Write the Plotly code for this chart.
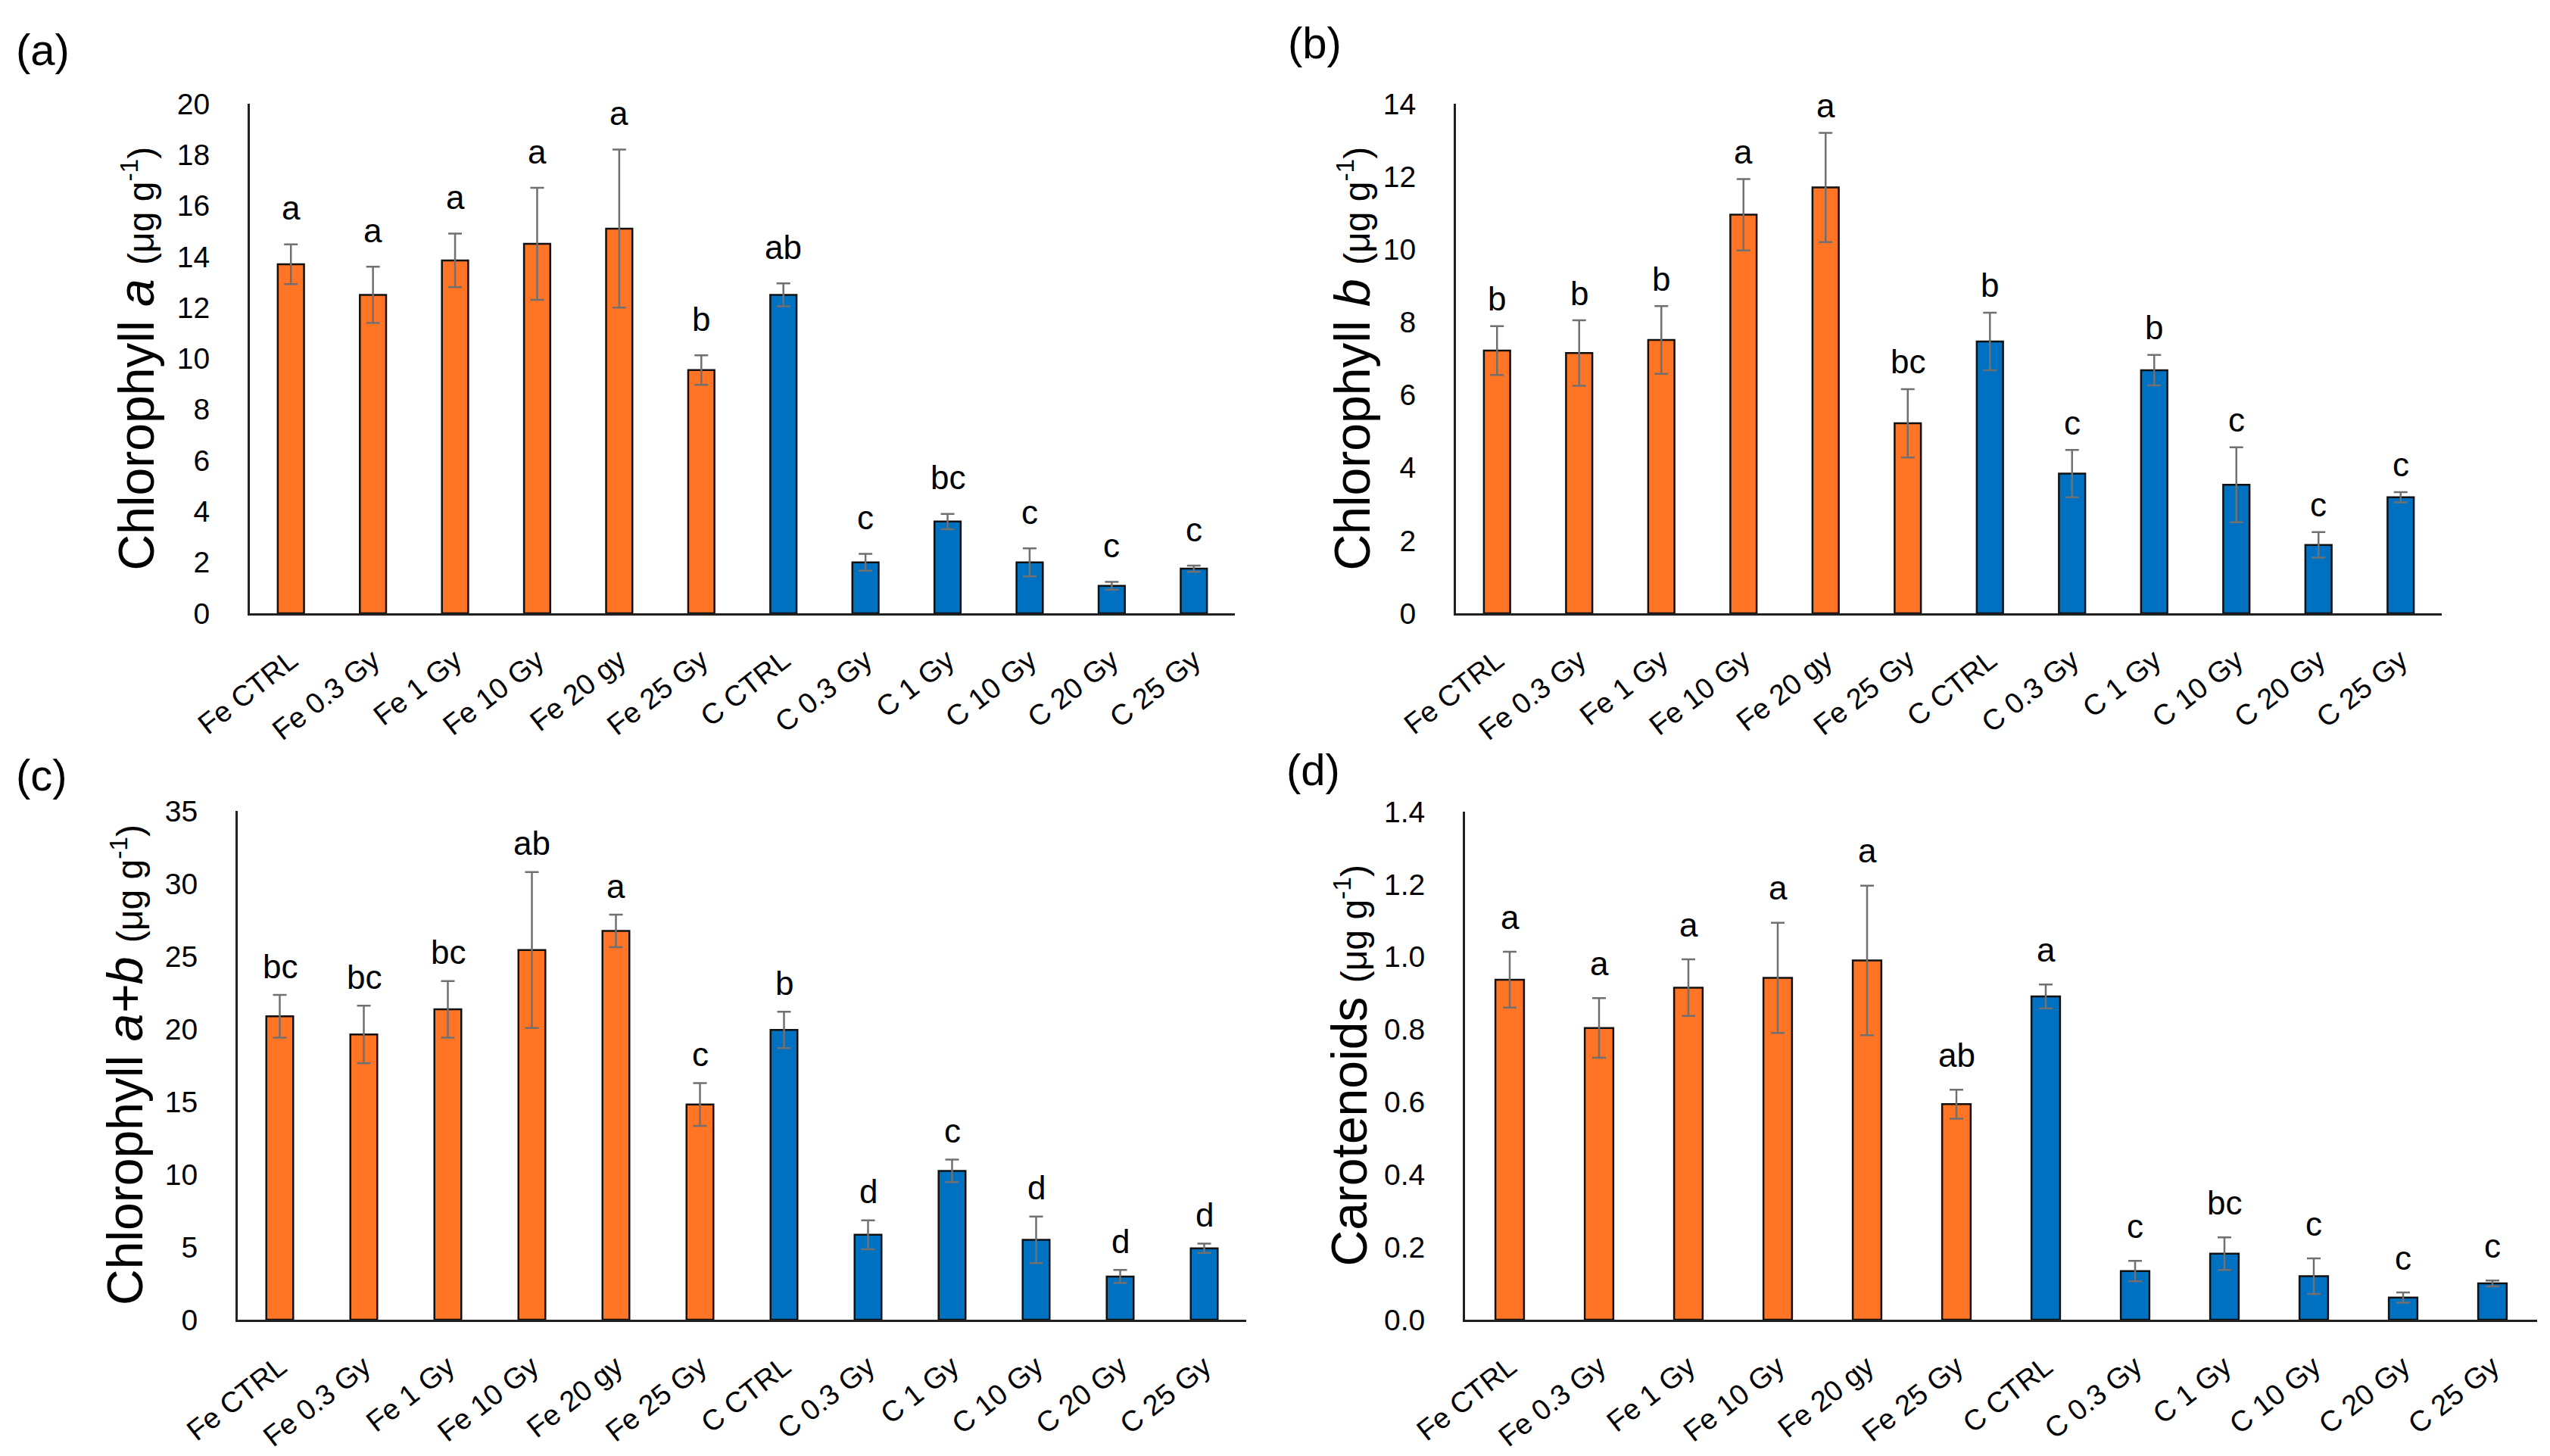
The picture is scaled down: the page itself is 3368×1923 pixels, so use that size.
import plotly.graph_objects as go

# ---------------- data ----------------
categories = ["Fe CTRL", "Fe 0.3 Gy", "Fe 1 Gy", "Fe 10 Gy", "Fe 20 gy", "Fe 25 Gy",
              "C CTRL", "C 0.3 Gy", "C 1 Gy", "C 10 Gy", "C 20 Gy", "C 25 Gy"]

chl_a = [13.7, 12.5, 13.85, 14.5, 15.1, 9.55, 12.5, 2.0, 3.6, 2.0, 1.08, 1.75]
chl_a_err = [0.78, 1.1, 1.05, 2.2, 3.1, 0.58, 0.45, 0.33, 0.3, 0.55, 0.15, 0.12]
chl_a_letters = ["a", "a", "a", "a", "a", "b", "ab", "c", "bc", "c", "c", "c"]

chl_b = [7.22, 7.15, 7.51, 10.95, 11.7, 5.22, 7.47, 3.84, 6.68, 3.53, 1.88, 3.19]
chl_b_err = [0.67, 0.9, 0.93, 0.98, 1.5, 0.94, 0.79, 0.65, 0.42, 1.03, 0.35, 0.14]
chl_b_letters = ["b", "b", "b", "a", "a", "bc", "b", "c", "b", "c", "c", "c"]

chl_ab = [20.87, 19.62, 21.35, 25.43, 26.74, 14.8, 19.94, 5.84, 10.24, 5.49, 2.97, 4.91]
chl_ab_err = [1.47, 1.98, 1.95, 5.36, 1.12, 1.47, 1.25, 0.99, 0.77, 1.6, 0.45, 0.32]
chl_ab_letters = ["bc", "bc", "bc", "ab", "a", "c", "b", "d", "c", "d", "d", "d"]

carot = [0.937, 0.804, 0.915, 0.942, 0.99, 0.594, 0.891, 0.134, 0.182, 0.12, 0.061, 0.1]
carot_err = [0.077, 0.082, 0.078, 0.152, 0.206, 0.04, 0.033, 0.028, 0.045, 0.049, 0.014, 0.008]
carot_letters = ["a", "a", "a", "a", "a", "ab", "a", "c", "bc", "c", "c", "c"]

y_ranges = [[0, 20], [0, 14], [0, 35], [0, 1.4]]
y_dticks = [2, 2, 5, 0.2]
panel_tags = ["(a)", "(b)", "(c)", "(d)"]

# ---------------- style ----------------
W, H = 3368, 1923
FONT = "Liberation Sans, Arial, sans-serif"
ORANGE = "#FF7425"
BLUE = "#0070C0"
ERR_COLOR = "#707070"
AXIS_COLOR = "#202020"

colors = [ORANGE if c.startswith("Fe") else BLUE for c in categories]

unit = "<span style='font-size:48px'>(μg g<sup>-1</sup>)</span>"
titles = [
    "Chlorophyll <i>a</i> " + unit,
    "Chlorophyll <i>b</i> " + unit,
    "Chlorophyll <i>a+b</i> " + unit,
    "Carotenoids " + unit,
]

panels = [
    (chl_a, chl_a_err, chl_a_letters),
    (chl_b, chl_b_err, chl_b_letters),
    (chl_ab, chl_ab_err, chl_ab_letters),
    (carot, carot_err, carot_letters),
]

# plot-area boxes in pixels: (left, right, top, bottom)
boxes = [
    (322, 1623, 129, 802),
    (1915, 3217, 129, 802),
    (306, 1638, 1063, 1735),
    (1927, 3343, 1064, 1735),
]
title_x = [172, 1778, 157, 1773]
letter_shift = [48, 36, 38, 46]
tag_pos = [(11, 58), (1691, 48), (11, 1015), (1689, 1008)]

fig = go.Figure()
annotations = []
layout_axes = {}

for i, ((vals, errs, letters), box) in enumerate(zip(panels, boxes)):
    n = "" if i == 0 else str(i + 1)
    xa, ya = "x" + n, "y" + n
    fig.add_trace(go.Bar(
        x=categories, y=vals,
        xaxis=xa, yaxis=ya,
        width=0.32,
        marker=dict(color=colors, line=dict(color="#111111", width=2.5)),
        error_y=dict(type="data", array=errs, visible=True,
                     color=ERR_COLOR, thickness=2.5, width=9),
        showlegend=False,
    ))
    for c, v, e, t in zip(categories, vals, errs, letters):
        annotations.append(dict(
            x=c, y=v + e, xref=xa, yref=ya, text=t, showarrow=False,
            yanchor="middle", yshift=letter_shift[i],
            font=dict(family=FONT, size=44, color="#000000"),
        ))
    l, r, t_, b = box
    layout_axes["xaxis" + n] = dict(
        domain=[l / W, r / W], anchor=ya, automargin=False,
        showline=True, linecolor=AXIS_COLOR, linewidth=3,
        ticks="", tickangle=-38, ticklabelstandoff=22,
        tickfont=dict(family=FONT, size=38, color="#000000"),
        showgrid=False, zeroline=False, fixedrange=True,
    )
    layout_axes["yaxis" + n] = dict(
        domain=[1 - b / H, 1 - t_ / H], anchor=xa, automargin=False,
        range=y_ranges[i], dtick=y_dticks[i],
        tickformat=".1f" if i == 3 else "d",
        showline=True, linecolor=AXIS_COLOR, linewidth=3,
        ticks="", ticklabelstandoff=42,
        tickfont=dict(family=FONT, size=39, color="#000000"),
        showgrid=False, zeroline=False,
    )
    # y-axis title
    annotations.append(dict(
        x=title_x[i] / W, y=1 - (t_ + b) / 2 / H, xref="paper", yref="paper",
        text=titles[i], showarrow=False, textangle=-90,
        xanchor="center", yanchor="middle",
        font=dict(family=FONT, size=66, color="#000000"),
    ))
    tx, ty = tag_pos[i]
    annotations.append(dict(
        x=tx / W, y=1 - ty / H, xref="paper", yref="paper",
        text=panel_tags[i], showarrow=False, xanchor="left", yanchor="middle",
        font=dict(family=FONT, size=58, color="#000000"),
    ))

fig.update_layout(
    width=W, height=H,
    margin=dict(l=0, r=0, t=0, b=0),
    paper_bgcolor="white", plot_bgcolor="white",
    annotations=annotations,
    bargap=0.68,
    **layout_axes,
)

fig.write_html("out.html")
